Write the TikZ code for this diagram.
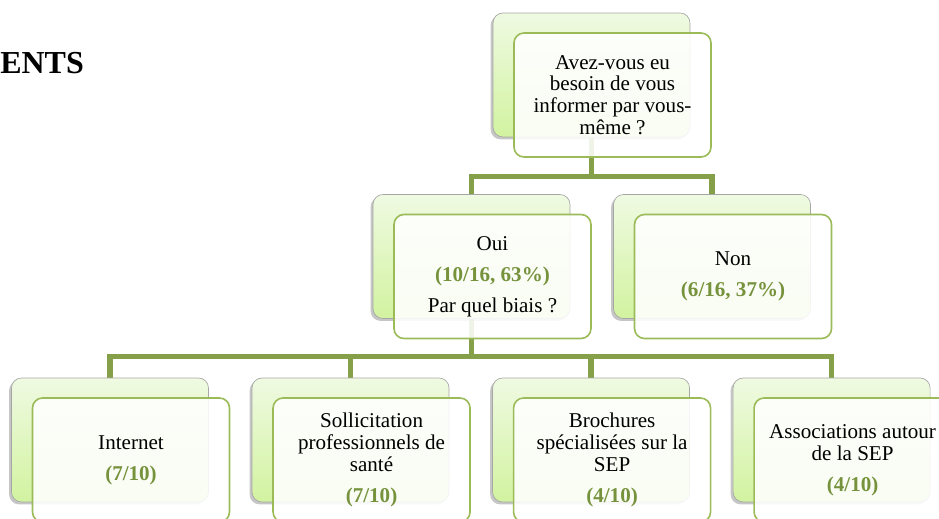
\documentclass[tikz,border=0pt]{standalone}
\usepackage{fontspec}
\setmainfont{Liberation Serif}
\usetikzlibrary{positioning,shadows,backgrounds}
\definecolor{linkgreen}{RGB}{134,160,74}
\definecolor{boxgreen}{RGB}{155,187,89}
\definecolor{txtgreen}{RGB}{118,146,60}
\definecolor{backtop}{RGB}{239,250,226}
\definecolor{backbot}{RGB}{210,243,160}
\newcommand{\stat}[1]{\textcolor{txtgreen}{\textbf{#1}}}

\begin{document}
\begin{tikzpicture}[x=0.75pt,y=-0.75pt,node distance=180.4pt,
	back/.style={rounded corners=7.5pt,minimum width=147.75pt,minimum height=93pt,draw=gray!70,line width=0.5pt,top color=backtop,bottom color=backbot,drop shadow={shadow xshift=-1.8pt,shadow yshift=-1.8pt,opacity=0.45}},
	front/.style={rounded corners=7.5pt,minimum width=147.75pt,minimum height=93pt,draw=boxgreen,line width=1.2pt,fill=white,fill opacity=0.88,text opacity=1,xshift=15.75pt,yshift=-15pt,align=center,inner sep=2pt,font=\fontsize{15.8}{16.3}\selectfont},
	link/.style={draw=linkgreen,line width=3.9pt,line join=miter}]
	\useasboundingbox (0,0) rectangle (939,518);
	\node[anchor=base west,inner sep=0pt,font=\bfseries\fontsize{24}{28}\selectfont] (title) at (0,73) {ENTS};

	\node[back] (askB) at (591.5,75) {};
	\node[front] (askF) at (askB) {Avez-vous eu\\besoin de vous\\informer par vous-\\même ?};

	\node[back] (ouiB) at (471.5,256.5) {};
	\node[front] (ouiF) at (ouiB) {Oui\\[7pt]\stat{(10/16, 63\%)}\\[7pt]Par quel biais ?};
	\node[back] (nonB) [right of=ouiB] {};
	\node[front] (nonF) at (nonB) {Non\\[7pt]\stat{(6/16, 37\%)}};

	\node[back] (netB) at (110,440) {};
	\node[front] (netF) at (netB) {Internet\\[7pt]\stat{(7/10)}};
	\node[back] (solB) [right of=netB] {};
	\node[front] (solF) at (solB) {Sollicitation\\professionnels de\\santé\\[7pt]\stat{(7/10)}};
	\node[back] (broB) [right of=solB] {};
	\node[front] (broF) at (broB) {Brochures\\spécialisées sur la\\SEP\\[7pt]\stat{(4/10)}};
	\node[back] (assB) [right of=broB] {};
	\node[front] (assF) at (assB) {Associations autour\\de la SEP\\[7pt]\stat{(4/10)}};

	\coordinate (busA) at (591.5,176.5);
	\coordinate (busB) at (471.5,356.5);
	\begin{scope}[on background layer]
		\draw[link] (askB.south) -- (busA) -| (ouiB.north);
		\draw[link] (busA) -| (nonB.north);
		\draw[link] (ouiB.south) -- (busB) -| (netB.north);
		\draw[link] (busB) -| (solB.north);
		\draw[link] (busB) -| (broB.north);
		\draw[link] (busB) -| (assB.north);
	\end{scope}
\end{tikzpicture}
\end{document}
